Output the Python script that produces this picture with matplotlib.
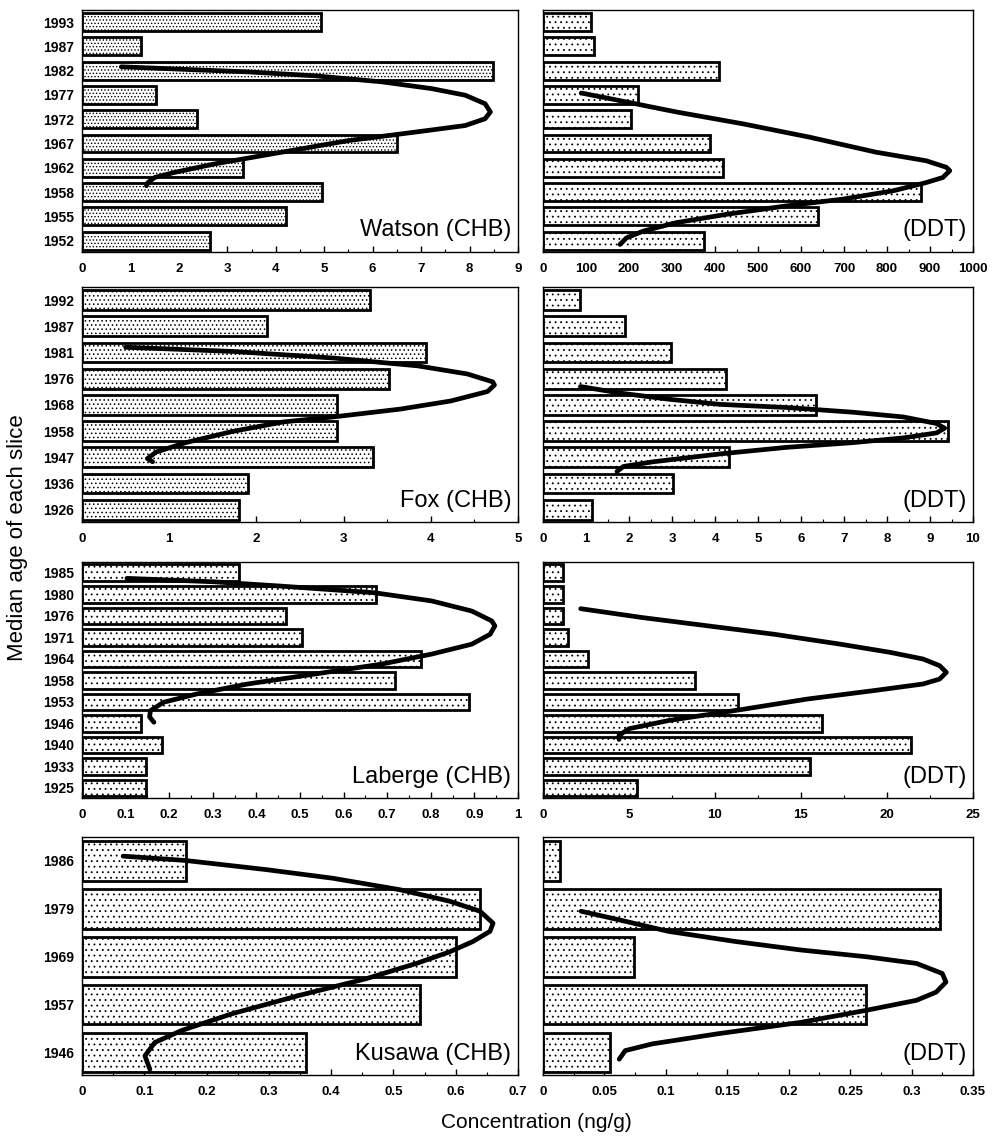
import matplotlib
matplotlib.use("Agg")
import matplotlib.pyplot as plt
from matplotlib.ticker import MultipleLocator, FuncFormatter

plt.rcParams['font.family'] = ['Liberation Sans', 'DejaVu Sans']
plt.rcParams['hatch.linewidth'] = 0.6

# ---------------- data (years listed top -> bottom) ----------------
watson_years = [1993, 1987, 1982, 1977, 1972, 1967, 1962, 1958, 1955, 1952]
watson_chb = [4.94, 1.22, 8.48, 1.52, 2.38, 6.5, 3.32, 4.95, 4.21, 2.64]
watson_ddt = [111, 119, 409, 220, 204, 389, 418, 878, 639, 375]
watson_chb_curve_x = [0.81, 2.05, 3.43, 4.80, 6.19, 7.22, 7.91, 8.32, 8.43, 8.32, 7.91, 6.88, 5.50, 4.12, 2.74, 1.91, 1.50, 1.36, 1.33]
watson_chb_curve_y = [7.16, 7.06, 6.95, 6.79, 6.54, 6.26, 5.99, 5.64, 5.30, 5.02, 4.74, 4.47, 4.12, 3.64, 3.16, 2.81, 2.60, 2.39, 2.26]
watson_ddt_curve_x = [89, 155, 310, 465, 620, 775, 891, 938, 946, 930, 891, 814, 698, 566, 426, 310, 233, 194, 179]
watson_ddt_curve_y = [6.08, 5.85, 5.30, 4.81, 4.26, 3.64, 3.29, 3.02, 2.88, 2.60, 2.39, 2.05, 1.71, 1.43, 1.08, 0.74, 0.39, 0.11, -0.16]

fox_years = [1992, 1987, 1981, 1976, 1968, 1958, 1947, 1936, 1926]
fox_chb = [3.30, 2.12, 3.94, 3.52, 2.93, 2.92, 3.34, 1.90, 1.80]
fox_ddt = [0.85, 1.91, 2.98, 4.25, 6.35, 9.42, 4.33, 3.03, 1.15]
fox_chb_curve_x = [0.5, 1.73, 2.88, 3.85, 4.42, 4.71, 4.73, 4.65, 4.23, 3.65, 2.88, 2.31, 1.73, 1.19, 0.85, 0.75, 0.81]
fox_chb_curve_y = [6.2, 6.04, 5.79, 5.49, 5.18, 4.88, 4.76, 4.51, 4.15, 3.84, 3.54, 3.35, 2.99, 2.56, 2.20, 1.95, 1.83]
fox_ddt_curve_x = [0.87, 1.80, 2.96, 4.12, 5.67, 7.21, 8.38, 9.15, 9.34, 9.15, 8.38, 7.21, 5.67, 4.12, 2.57, 1.87, 1.72]
fox_ddt_curve_y = [4.70, 4.45, 4.21, 4.02, 3.90, 3.72, 3.54, 3.29, 3.11, 2.93, 2.74, 2.56, 2.38, 2.13, 1.83, 1.65, 1.46]

laberge_years = [1985, 1980, 1976, 1971, 1964, 1958, 1953, 1946, 1940, 1933, 1925]
laberge_chb = [0.359, 0.675, 0.469, 0.504, 0.778, 0.719, 0.888, 0.135, 0.183, 0.146, 0.146]
laberge_ddt = [1.15, 1.15, 1.15, 1.48, 2.63, 8.85, 11.35, 16.2, 21.4, 15.5, 5.46]
laberge_chb_curve_x = [0.103, 0.302, 0.456, 0.671, 0.802, 0.894, 0.94, 0.947, 0.936, 0.894, 0.802, 0.686, 0.533, 0.380, 0.264, 0.187, 0.157, 0.155, 0.165]
laberge_chb_curve_y = [9.74, 9.58, 9.38, 9.07, 8.69, 8.22, 7.76, 7.53, 7.14, 6.68, 6.22, 5.75, 5.29, 4.83, 4.37, 3.98, 3.59, 3.30, 3.05]
laberge_ddt_curve_x = [2.19, 5.75, 9.60, 13.45, 17.29, 20.18, 22.10, 23.06, 23.45, 23.06, 22.10, 19.21, 15.37, 11.52, 7.29, 5.0, 4.42, 4.42]
laberge_ddt_curve_y = [8.33, 7.92, 7.53, 7.14, 6.68, 6.30, 5.99, 5.68, 5.37, 5.06, 4.83, 4.52, 4.13, 3.64, 3.13, 2.75, 2.44, 2.25]

kusawa_years = [1986, 1979, 1969, 1957, 1946]
kusawa_chb = [0.167, 0.639, 0.601, 0.543, 0.359]
kusawa_ddt = [0.0142, 0.323, 0.0739, 0.263, 0.0543]
kusawa_chb_curve_x = [0.066, 0.166, 0.295, 0.402, 0.51, 0.59, 0.639, 0.66, 0.655, 0.628, 0.59, 0.537, 0.456, 0.348, 0.241, 0.16, 0.117, 0.101, 0.109]
kusawa_chb_curve_y = [4.1, 4.01, 3.82, 3.64, 3.4, 3.16, 2.95, 2.70, 2.53, 2.32, 2.1, 1.86, 1.54, 1.19, 0.81, 0.46, 0.21, -0.07, -0.35]
kusawa_ddt_curve_x = [0.031, 0.062, 0.102, 0.156, 0.21, 0.263, 0.304, 0.325, 0.328, 0.32, 0.304, 0.263, 0.21, 0.142, 0.089, 0.067, 0.062]
kusawa_ddt_curve_y = [2.95, 2.77, 2.53, 2.32, 2.14, 2.0, 1.86, 1.65, 1.47, 1.26, 1.09, 0.88, 0.63, 0.39, 0.18, 0.04, -0.14]

lakes = ["Watson", "Fox", "Laberge", "Kusawa"]
years_all = [watson_years, fox_years, laberge_years, kusawa_years]
chb_all = [watson_chb, fox_chb, laberge_chb, kusawa_chb]
ddt_all = [watson_ddt, fox_ddt, laberge_ddt, kusawa_ddt]
chb_curves = [(watson_chb_curve_x, watson_chb_curve_y), (fox_chb_curve_x, fox_chb_curve_y),
              (laberge_chb_curve_x, laberge_chb_curve_y), (kusawa_chb_curve_x, kusawa_chb_curve_y)]
ddt_curves = [(watson_ddt_curve_x, watson_ddt_curve_y), (fox_ddt_curve_x, fox_ddt_curve_y),
              (laberge_ddt_curve_x, laberge_ddt_curve_y), (kusawa_ddt_curve_x, kusawa_ddt_curve_y)]

chb_xlim = [9, 5, 1, 0.7]
chb_major = [1, 1, 0.1, 0.1]
ddt_xlim = [1000, 10, 25, 0.35]
ddt_major = [100, 1, 5, 0.05]

# ---------------- layout ----------------
W, H = 996, 1140
fig = plt.figure(figsize=(W / 100, H / 100), dpi=100)

left_cols = [(82, 518), (543, 973)]
rows = [(10, 252), (287, 522), (562, 798), (837, 1075)]
bar_heights = [0.74, 0.76, 0.77, 0.83]
hatches_left = ['.....', '....', '...', '...']
hatches_right = ['...', '...', '...', '...']


def fmt_factory(step):
    def f(v, pos):
        if abs(v) < 1e-9:
            return "0"
        if step >= 1:
            return f"{v:.0f}"
        return f"{v:.2f}".rstrip('0').rstrip('.')
    return f


def make_ax(col, row):
    x0, x1 = left_cols[col]
    y0, y1 = rows[row]
    return fig.add_axes([x0 / W, 1 - y1 / H, (x1 - x0) / W, (y1 - y0) / H])


for r in range(4):
    years = years_all[r]
    n = len(years)
    pos = list(range(n - 1, -1, -1))
    for c, (vals, curve, xmax, step, name, hatch) in enumerate([
            (chb_all[r], chb_curves[r], chb_xlim[r], chb_major[r], f"{lakes[r]} (CHB)", hatches_left[r]),
            (ddt_all[r], ddt_curves[r], ddt_xlim[r], ddt_major[r], "(DDT)", hatches_right[r])]):
        ax = make_ax(c, r)
        ax.barh(pos, vals, height=bar_heights[r], color='white', edgecolor='black',
                linewidth=2.0, hatch=hatch, zorder=2)
        ax.plot(curve[0], curve[1], color='black', lw=3.4, solid_capstyle='round',
                solid_joinstyle='round', zorder=4)
        ax.set_xlim(0, xmax)
        ax.set_ylim(-0.47, n - 0.5)
        ax.xaxis.set_major_locator(MultipleLocator(step))
        ax.xaxis.set_minor_locator(MultipleLocator(step / 2))
        ax.xaxis.set_major_formatter(FuncFormatter(fmt_factory(step)))
        ax.set_yticks(pos)
        if c == 0:
            ax.set_yticklabels([str(y) for y in years], fontsize=10, fontweight='bold')
        else:
            ax.set_yticklabels([])
        ax.tick_params(axis='x', direction='in', length=4, width=1, labelsize=9.5, pad=8)
        ax.tick_params(axis='x', which='minor', direction='in', length=2, width=0.8)
        ax.tick_params(axis='y', direction='in', length=3, width=1, pad=6)
        for lab in ax.get_xticklabels():
            lab.set_fontweight('bold')
        for sp in ax.spines.values():
            sp.set_linewidth(1.0)
        ax.text(0.985, 0.09, name, transform=ax.transAxes, ha='right', va='center',
                fontsize=17, zorder=5)

fig.text(18 / W, 1 - 538 / H, "Median age of each slice", rotation=90, ha='center',
         va='center', fontsize=16)
fig.text(536 / W, 1 - 1122 / H, "Concentration (ng/g)", ha='center', va='center', fontsize=15)

fig.savefig("out.png", dpi=100)
